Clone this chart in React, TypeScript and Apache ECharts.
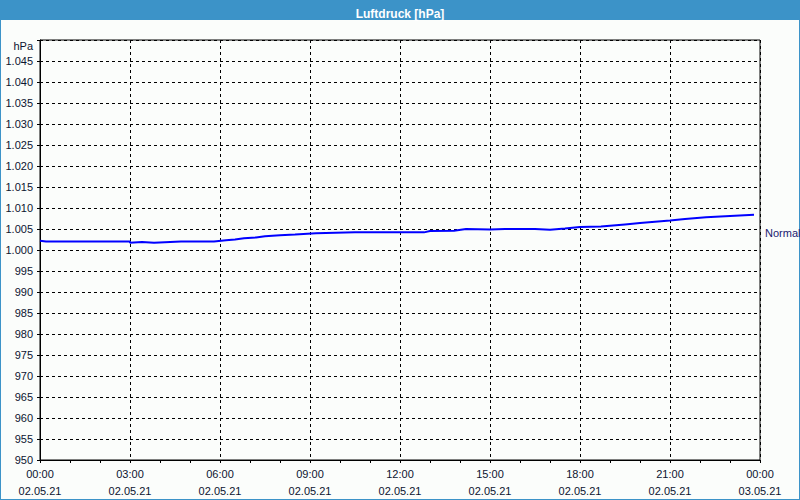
import React, { useEffect, useRef } from "react";
import * as echarts from "echarts";

const TITLE = "Luftdruck [hPa]";
const Y_UNIT = "hPa";
const DATE_1 = "02.05.21";
const DATE_2 = "03.05.21";
const NORMAL_LABEL = "Normal";
const NORMAL_VALUE = 1004;

// hours since 00:00 on 02.05.21
const hours = [
  0, 0.2, 3.0, 3.0, 3.4, 3.8, 4.7, 5.8, 6.2, 6.5, 6.8, 7.2, 7.5, 8.0, 8.5, 9.2,
  10.5, 12.8, 13.0, 13.8, 14.2, 15.0, 15.5, 16.5, 17.0, 17.5, 18.0, 18.7, 19.0,
  19.5, 20.0, 20.5, 21.0, 21.5, 22.2, 23.0, 23.8,
];
const pressure = [
  1002.2, 1002.0, 1002.0, 1001.7, 1001.9, 1001.7, 1002.0, 1002.0, 1002.3,
  1002.5, 1002.8, 1003.0, 1003.3, 1003.5, 1003.7, 1004.0, 1004.2, 1004.2,
  1004.5, 1004.6, 1005.0, 1004.9, 1005.0, 1005.0, 1004.8, 1005.1, 1005.5,
  1005.6, 1005.8, 1006.1, 1006.4, 1006.7, 1007.0, 1007.4, 1007.8, 1008.1,
  1008.4,
];

const FONT = "Liberation Sans";
const TEXT_COLOR = "#0c1430";

function fmtY(v: number): string {
  if (v >= 1050) return "";
  if (v >= 1000) {
    const r = Math.round(v - 1000);
    return "1." + String(r).padStart(3, "0");
  }
  return String(v);
}

function fmtX(v: number): string {
  const h = Math.round(v) % 24;
  const d = v >= 24 ? DATE_2 : DATE_1;
  return String(h).padStart(2, "0") + ":00\n" + d;
}

export default function App() {
  const ref = useRef<HTMLDivElement>(null);
  useEffect(() => {
    if (!ref.current) return;
    const chart = echarts.init(ref.current, null, { renderer: "svg" });
    chart.setOption({
      animation: false,
      backgroundColor: "#3c93c8",
      title: {
        text: TITLE,
        left: "center",
        top: 3,
        textStyle: { color: "#ffffff", fontFamily: FONT, fontWeight: "bold", fontSize: 12 },
      },
      graphic: [
        {
          type: "rect",
          z: -10,
          silent: true,
          shape: { x: 1, y: 20, width: 798, height: 479 },
          style: { fill: "#fbfdfb" },
        },
      ],
      grid: {
        left: 40,
        right: 40,
        top: 40,
        bottom: 40,
        show: true,
        borderColor: "#000",
        borderWidth: 1,
        backgroundColor: "transparent",
      },
      xAxis: {
        type: "value",
        min: 0,
        max: 24,
        interval: 3,
        axisLine: { show: true, lineStyle: { color: "#000", width: 1 } },
        axisTick: { show: true, length: 3, lineStyle: { color: "#000" } },
        minorTick: { show: true, splitNumber: 3, length: 3, lineStyle: { color: "#000" } },
        splitLine: { show: true, lineStyle: { color: "#000", type: [3, 3], width: 1 } },
        axisLabel: {
          formatter: fmtX,
          color: TEXT_COLOR,
          fontFamily: FONT,
          fontSize: 11,
          lineHeight: 17,
          margin: 5,
          showMinLabel: true,
          showMaxLabel: true,
        },
      },
      yAxis: {
        type: "value",
        min: 950,
        max: 1050,
        interval: 5,
        name: Y_UNIT,
        nameLocation: "end",
        nameGap: -6,
        nameTextStyle: {
          color: TEXT_COLOR,
          fontFamily: FONT,
          fontSize: 11,
          align: "right",
          verticalAlign: "middle",
          padding: [0, 7, 0, 0],
        },
        axisLine: { show: true, lineStyle: { color: "#000", width: 1 } },
        axisTick: { show: true, length: 3, lineStyle: { color: "#000" } },
        splitLine: { show: true, lineStyle: { color: "#000", type: [3, 3], width: 1 } },
        axisLabel: {
          formatter: fmtY,
          color: TEXT_COLOR,
          fontFamily: FONT,
          fontSize: 11,
          margin: 7,
        },
      },
      series: [
        {
          type: "line",
          data: hours.map((h, i) => [h, pressure[i]]),
          showSymbol: false,
          symbol: "none",
          lineStyle: { color: "#0000ff", width: 2 },
          markLine: {
            silent: true,
            symbol: "none",
            lineStyle: { color: "rgba(0,0,0,0)", width: 1, type: "solid" },
            label: {
              show: true,
              position: "end",
              formatter: NORMAL_LABEL,
              color: "#1a2070",
              fontFamily: FONT,
              fontSize: 11,
              distance: 5,
            },
            data: [{ yAxis: NORMAL_VALUE }],
          },
        },
      ],
    });
    return () => chart.dispose();
  }, []);
  return (
    <div
      ref={ref}
      style={{ position: "fixed", left: 0, top: 0, width: 800, height: 500 }}
    />
  );
}
